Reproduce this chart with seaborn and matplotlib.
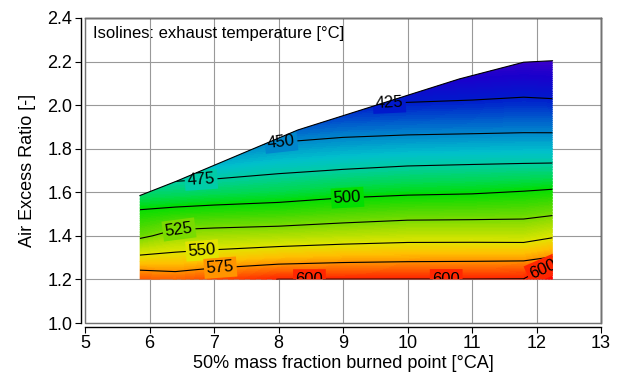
import numpy as np
import matplotlib
matplotlib.use("Agg")
import matplotlib.pyplot as plt
import seaborn as sns
from matplotlib.colors import LinearSegmentedColormap, Normalize
from matplotlib.patches import Polygon, Rectangle
from matplotlib.transforms import Bbox, TransformedBbox

# ---------------- data ----------------
mfb50 = [5.85, 6.4, 7.0, 8.0, 9.0, 10.0, 11.0, 11.8, 12.25]          # x grid [°CA]
air_ratio = [1.2, 1.25, 1.3, 1.4, 1.5, 1.6, 1.7, 1.8, 1.9, 2.0, 2.1, 2.2]  # y grid [-]

# exhaust temperature [°C], one row per air-ratio value
t_120 = [588, 585.7, 592, 600.3, 600.4, 600.5, 600.5, 600.8, 614]
t_125 = [572.7, 570.8, 575.7, 582, 583.8, 585, 585.5, 586.7, 606]
t_130 = [553.8, 556, 559.2, 564.6, 567.8, 569.1, 569.6, 570, 576.2]
t_140 = [521.1, 532.1, 533.9, 535.9, 539, 541.7, 541.8, 541.3, 547.5]
t_150 = [504.1, 507.3, 509.2, 511.3, 515.4, 518.5, 519.2, 520.2, 523.4]
t_160 = [483.6, 484.6, 487, 490.2, 494.7, 497.2, 498.5, 501, 503]
t_170 = [464.3, 465.5, 467.3, 472.4, 475.9, 478.7, 480, 481, 481.5]
t_180 = [446, 448, 448.3, 455.2, 458.8, 460.9, 461.9, 462.5, 462.6]
t_190 = [430, 432, 431.7, 437.5, 441.9, 443.7, 444.6, 445.5, 445.4]
t_200 = [415, 416, 415, 420, 425, 427, 428.5, 430.4, 429.5]
t_210 = [402, 402, 402, 405, 408.3, 411.3, 413.5, 415.6, 414.4]
t_220 = [390, 390, 390, 392, 393, 397, 399, 401, 400]

# measured operating range (outline of the map)
range_x = [5.85, 5.85, 6.41, 8.3, 10.8, 11.8, 12.25, 12.25]
range_y = [1.2, 1.585, 1.65, 1.886, 2.12, 2.197, 2.204, 1.2]

iso_levels = [425, 450, 475, 500, 525, 550, 575, 600]
label_pos = [(9.72, 2.0), (8.04, 1.83), (6.8, 1.66), (9.07, 1.573),
             (6.46, 1.415), (6.82, 1.32), (7.1, 1.247),
             (8.48, 1.2), (10.6, 1.2), (12.1, 1.245)]

x_ticks = [5, 6, 7, 8, 9, 10, 11, 12, 13]
y_ticks = [1.0, 1.2, 1.4, 1.6, 1.8, 2.0, 2.2, 2.4]

# ---------------- styling ----------------
sns.set_theme(style="white")
plt.rcParams["font.family"] = ["Liberation Sans", "DejaVu Sans"]

stops = [(390, (0.35, 0.0, 0.78)), (410, (0.1, 0.0, 0.8)), (425, (0.0, 0.1, 0.8)),
         (445, (0.0, 0.45, 0.8)), (465, (0.0, 0.75, 0.8)), (475, (0.0, 0.8, 0.65)),
         (490, (0.0, 0.85, 0.3)), (500, (0.0, 0.87, 0.0)), (515, (0.3, 0.85, 0.0)),
         (535, (0.65, 0.87, 0.0)), (550, (0.88, 0.9, 0.0)), (565, (1.0, 0.75, 0.0)),
         (580, (1.0, 0.5, 0.0)), (600, (1.0, 0.15, 0.0)), (615, (1.0, 0.0, 0.0))]
vmin, vmax = stops[0][0], stops[-1][0]
cmap = LinearSegmentedColormap.from_list(
    "temp", [((v - vmin) / (vmax - vmin), c) for v, c in stops])
norm = Normalize(vmin, vmax)

fig = plt.figure(figsize=(6.25, 3.74), dpi=100)
ax = fig.add_axes([85 / 625, 1 - 323 / 374, 516 / 625, 305 / 374])

X, Y = np.meshgrid(mfb50, air_ratio)
Z = np.array([t_120, t_125, t_130, t_140, t_150, t_160, t_170, t_180,
              t_190, t_200, t_210, t_220])

clip = Polygon(np.column_stack([range_x, range_y]), closed=True,
               transform=ax.transData, fill=False, lw=0)
clip_rect = TransformedBbox(
    Bbox([[min(range_x), min(range_y)], [max(range_x), max(range_y)]]),
    ax.transData)

cf = ax.contourf(X, Y, Z, levels=np.linspace(vmin, vmax, 160), cmap=cmap,
                 norm=norm, extend="both", antialiased=False, zorder=2)
cf.set_clip_path(clip)

cs = ax.contour(X, Y, Z, levels=iso_levels, colors="black", linewidths=0.8,
                zorder=3)
cs.set_clip_path(clip)
texts = ax.clabel(cs, fmt="%d", fontsize=12, inline=True, inline_spacing=3,
                  manual=label_pos)
for t in texts:
    lev = float(t.get_text())
    t.set_bbox(dict(boxstyle="square,pad=0.15", fc=cmap(norm(lev)), ec="none"))
    t.set_zorder(4)
    t.set_clip_on(True)
    t.set_clip_box(clip_rect)
    t.set_clip_path(clip)

# outline of the top edge
ax.plot(range_x[1:7], range_y[1:7], color="black", lw=0.8, zorder=5)

ax.set_xlim(5, 13)
ax.set_ylim(1.0, 2.4)
ax.set_xticks(x_ticks)
ax.set_yticks(y_ticks)
ax.set_yticklabels([f"{v:.1f}" for v in y_ticks])
ax.grid(True, color="0.6", lw=0.8, zorder=0)
ax.set_axisbelow(True)

for side in ["top", "right"]:
    ax.spines[side].set_color("black")
    ax.spines[side].set_linewidth(1.0)
for side in ["left", "bottom"]:
    ax.spines[side].set_position(("outward", 3))
    ax.spines[side].set_color("black")
    ax.spines[side].set_linewidth(1.0)
ax.add_patch(Rectangle((0, 0), 1, 1, transform=ax.transAxes, fill=False,
                       ec="0.45", lw=1.0, zorder=6, clip_on=False))

ax.tick_params(axis="both", direction="out", length=4, width=0.8,
               color="black", labelsize=13, labelcolor="black", pad=2,
               left=True, bottom=True)
ax.set_xlabel("50% mass fraction burned point [°CA]", fontsize=13,
              color="black", labelpad=2)
ax.set_ylabel("Air Excess Ratio [-]", fontsize=13, color="black", labelpad=8)

ax.text(0.016, 0.949, "Isolines: exhaust temperature [°C]", transform=ax.transAxes,
        fontsize=12, color="black", ha="left", va="center", zorder=7)

fig.savefig("out.png", dpi=100)
